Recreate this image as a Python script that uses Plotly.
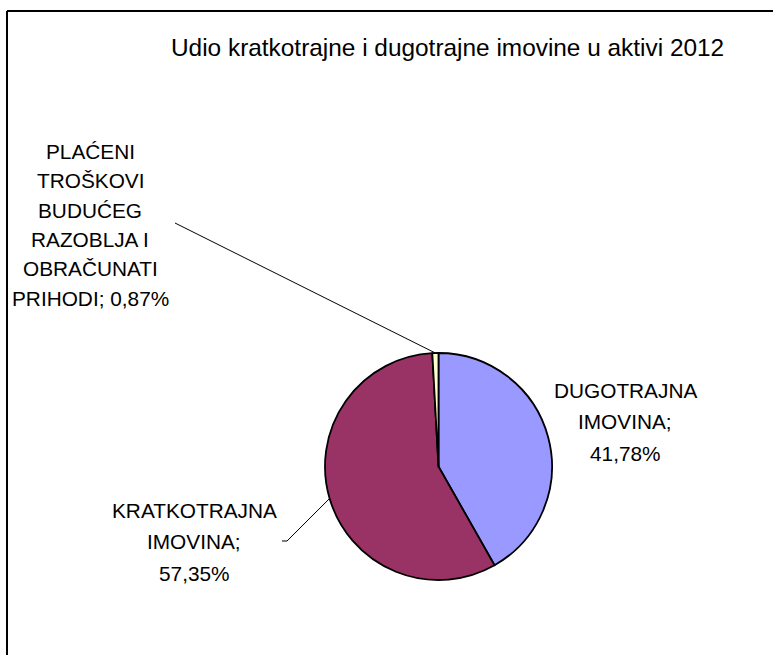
import math
import plotly.graph_objects as go

# ---------------- data ----------------
categories = [
    "DUGOTRAJNA IMOVINA",
    "KRATKOTRAJNA IMOVINA",
    "PLAĆENI TROŠKOVI BUDUĆEG RAZOBLJA I OBRAČUNATI PRIHODI",
]
values = [41.78, 57.35, 0.87]
label_lines = [
    ["DUGOTRAJNA", "IMOVINA;"],
    ["KRATKOTRAJNA", "IMOVINA;"],
    ["PLAĆENI", "TROŠKOVI", "BUDUĆEG", "RAZOBLJA I", "OBRAČUNATI", "PRIHODI;"],
]
percent_on_own_line = [True, True, False]
colors = ["#9999FF", "#993366", "#FFFFCC"]
title_text = "Udio kratkotrajne i dugotrajne imovine u aktivi 2012"

# ---------------- layout constants ----------------
W, H = 773, 655
FONT = "Liberation Sans, Arial, sans-serif"
pie_cx, pie_cy, pie_r = 438.5, 466.5, 113.5

def px(x):
    return x / W

def py(y):
    return 1 - y / H

fig = go.Figure()
fig.add_trace(go.Pie(
    labels=categories,
    values=values,
    sort=False,
    direction="clockwise",
    rotation=0,
    marker=dict(colors=colors, line=dict(color="black", width=1.8)),
    textinfo="none",
    hoverinfo="label+percent",
    showlegend=False,
    domain=dict(x=[px(pie_cx - pie_r), px(pie_cx + pie_r)],
                y=[py(pie_cy + pie_r), py(pie_cy - pie_r)]),
))

def fmt_pct(v):
    return f"{v:.2f}%".replace(".", ",")

# label block placement (center x, first-line y, line step) in pixels
label_pos = [
    (625, 390, 31.5),
    (194, 510, 31.7),
    (90, 151, 29.5),
]
# leader line label-end points (None = no leader)
leader_end = [None, (287, 541), (175, 223)]
leader_tick = [None, (282, 541), None]

annotations = []
shapes = []
total = sum(values)
cum = 0.0
for i, v in enumerate(values):
    lines = list(label_lines[i])
    if percent_on_own_line[i]:
        lines.append(fmt_pct(v))
    else:
        lines[-1] = lines[-1] + " " + fmt_pct(v)
    cx, y0, step = label_pos[i]
    for j, t in enumerate(lines):
        annotations.append(dict(
            text=t, x=px(cx), y=py(y0 + j * step), xref="paper", yref="paper",
            xanchor="center", yanchor="middle", showarrow=False,
            font=dict(family=FONT, size=20.8, color="black"),
        ))
    mid = (cum + v / 2) / total * 2 * math.pi
    cum += v
    if leader_end[i] is not None:
        ex = pie_cx + pie_r * math.sin(mid)
        ey = pie_cy - pie_r * math.cos(mid)
        lx, ly = leader_end[i]
        shapes.append(dict(type="line", xref="paper", yref="paper",
                           x0=px(ex), y0=py(ey), x1=px(lx), y1=py(ly),
                           line=dict(color="black", width=1)))
        if leader_tick[i] is not None:
            tx, ty = leader_tick[i]
            shapes.append(dict(type="line", xref="paper", yref="paper",
                               x0=px(lx), y0=py(ly), x1=px(tx), y1=py(ty),
                               line=dict(color="black", width=1)))

annotations.append(dict(
    text=title_text, x=px(448), y=py(47), xref="paper", yref="paper",
    xanchor="center", yanchor="middle", showarrow=False,
    font=dict(family=FONT, size=24.4, color="black"),
))

# chart frame (top and left edges visible)
shapes.append(dict(type="line", xref="paper", yref="paper",
                   x0=px(7), y0=py(11), x1=px(W + 20), y1=py(11),
                   line=dict(color="black", width=2)))
shapes.append(dict(type="line", xref="paper", yref="paper",
                   x0=px(7), y0=py(11), x1=px(7), y1=py(H + 20),
                   line=dict(color="black", width=2)))

fig.update_layout(
    width=W, height=H,
    margin=dict(l=0, r=0, t=0, b=0),
    paper_bgcolor="white", plot_bgcolor="white",
    annotations=annotations, shapes=shapes,
    font=dict(family=FONT),
)

fig.write_html("out.html", config={"displayModeBar": False},
               post_script="document.body.style.margin='0';")
